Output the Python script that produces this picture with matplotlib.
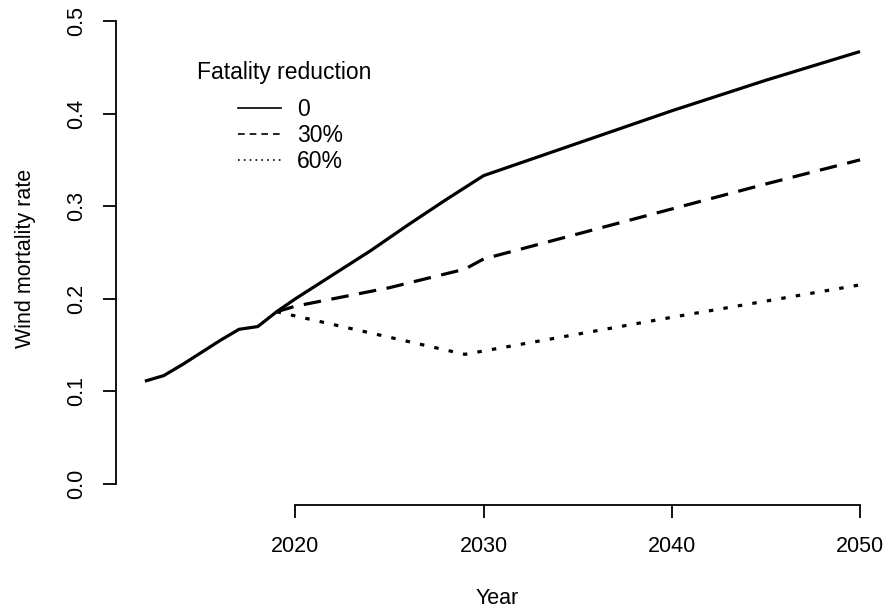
import matplotlib
matplotlib.use('Agg')
import matplotlib.pyplot as plt
from matplotlib.lines import Line2D

plt.rcParams['font.family'] = ['Liberation Sans', 'DejaVu Sans']

# data
years_0 = [2012, 2013, 2014, 2015, 2016, 2017, 2018, 2019, 2020, 2022, 2024,
           2026, 2028, 2030, 2035, 2040, 2045, 2050]
rate_0 = [0.111, 0.117, 0.129, 0.142, 0.155, 0.167, 0.170, 0.186, 0.200, 0.226,
          0.252, 0.280, 0.307, 0.333, 0.368, 0.403, 0.436, 0.467]

years_30 = [2019, 2020, 2025, 2029, 2030, 2035, 2040, 2045, 2050]
rate_30 = [0.186, 0.192, 0.212, 0.232, 0.243, 0.270, 0.297, 0.324, 0.350]

years_60 = [2019, 2029, 2040, 2050]
rate_60 = [0.186, 0.140, 0.180, 0.215]

scenario_labels = ['0', '30%', '60%']
x_ticks = [2020, 2030, 2040, 2050]
y_ticks = [0.0, 0.1, 0.2, 0.3, 0.4, 0.5]

fig = plt.figure(figsize=(8.88, 6.13), dpi=100)
ax = fig.add_axes([0.1303, 0.1762, 0.8594, 0.8047])

lw = 2.3
ax.plot(years_0, rate_0, color='black', lw=lw, solid_capstyle='butt')
ax.plot(years_30, rate_30, color='black', lw=lw, dashes=(5.5, 3.3))
ax.plot(years_60, rate_60, color='black', lw=lw, dashes=(1.4, 3.2))

ax.set_xlim(2010.45, 2051.0)
ax.set_ylim(-0.0227, 0.51)

for s in ['top', 'right']:
    ax.spines[s].set_visible(False)
ax.spines['left'].set_bounds(0, 0.5)
ax.spines['bottom'].set_bounds(2020, 2050)
for s in ['left', 'bottom']:
    ax.spines[s].set_linewidth(1.3)

ax.set_xticks(x_ticks)
ax.set_xticklabels([str(t) for t in x_ticks])
ax.set_yticks(y_ticks)
ax.set_yticklabels(['%.1f' % t for t in y_ticks], rotation=90, va='center')
ax.tick_params(axis='both', direction='out', length=9.4, width=1.3,
               labelsize=15.5, colors='black')
ax.tick_params(axis='x', pad=13)
ax.tick_params(axis='y', pad=11)

ax.set_xlabel('Year', fontsize=15.5, labelpad=22)
ax.set_ylabel('Wind mortality rate', fontsize=15.5)
ax.yaxis.set_label_coords(-0.104, 0.5)

# legend
ax.text(197 / 888, 1 - 72 / 613, 'Fatality reduction', transform=fig.transFigure,
        fontsize=16.5, ha='left', va='center')
handles = [Line2D([], [], color='black', lw=1.2),
           Line2D([], [], color='black', lw=1.2, dashes=(4, 3)),
           Line2D([], [], color='black', lw=1.2, dashes=(1, 2.5))]
fig.legend(handles, scenario_labels, loc='upper left',
           bbox_to_anchor=(227 / 888, 1 - 87 / 613), frameon=False,
           fontsize=16.5, handlelength=1.85, handletextpad=0.7,
           labelspacing=0.12, borderpad=0)

fig.savefig('out.png', dpi=100)
